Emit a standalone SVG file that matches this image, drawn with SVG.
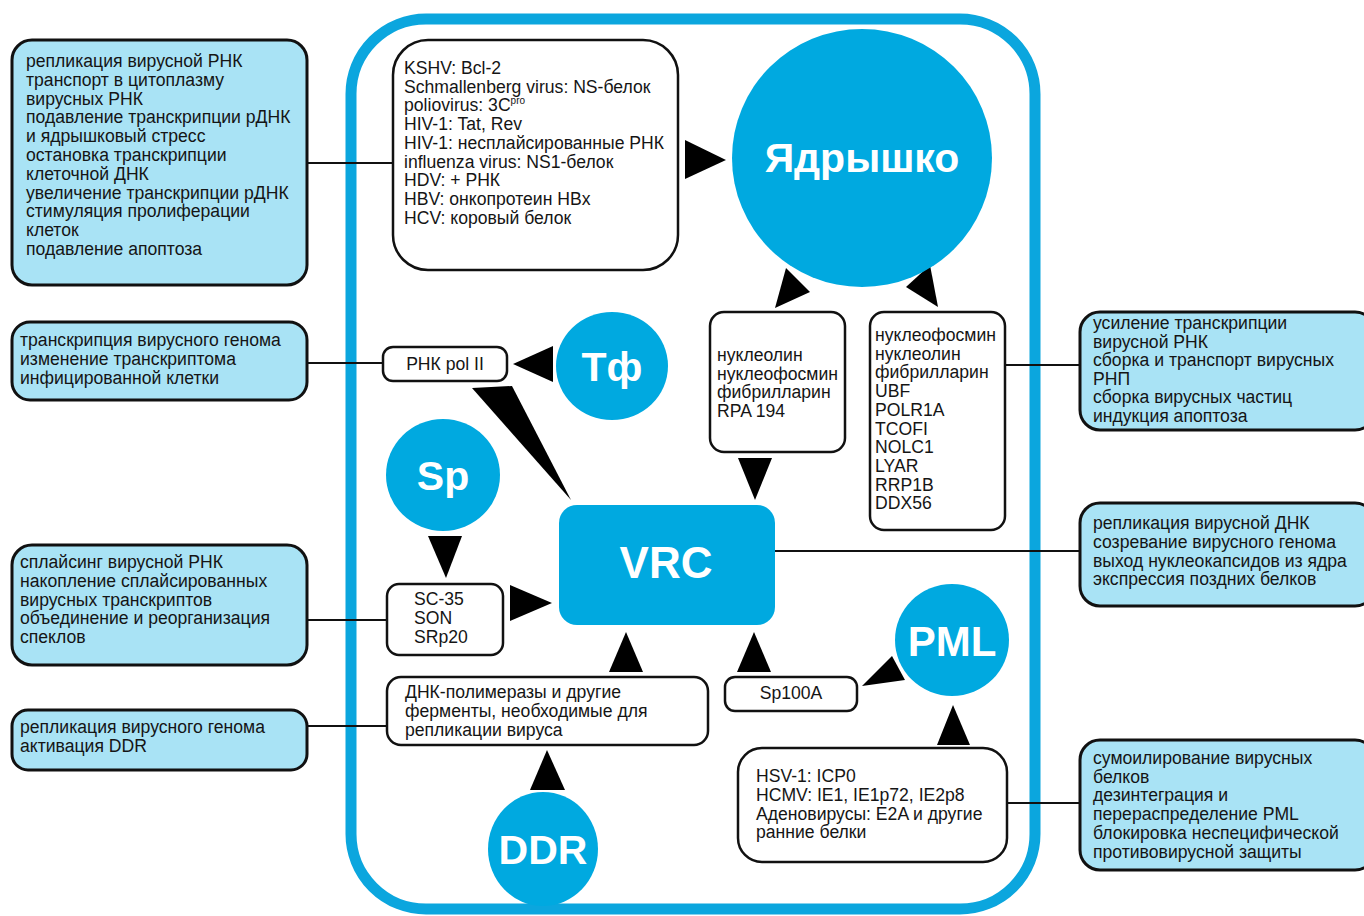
<svg xmlns="http://www.w3.org/2000/svg" width="1364" height="916" viewBox="0 0 1364 916">
<style>
.frame{fill:none;stroke:#0BA6DE;stroke-width:11}
.fn{fill:#A9E3F5;stroke:#111;stroke-width:3}
.bx{fill:#fff;stroke:#111;stroke-width:2.5}
.hub{fill:#00A9E0}
.t{font-family:"Liberation Sans",Arial,sans-serif;font-size:17.6px;fill:#151515}
.big{font-family:"Liberation Sans",Arial,sans-serif;font-weight:bold;fill:#fff;text-anchor:middle}
.ln{stroke:#111;stroke-width:2;fill:none}
.ah{fill:#000}
</style>
<rect class="frame" x="351" y="19" width="684" height="890" rx="75"/>

<g id="connectors">
<line class="ln" x1="307" y1="163" x2="393" y2="163"/>
<line class="ln" x1="307" y1="363" x2="383" y2="363"/>
<line class="ln" x1="307" y1="620" x2="387" y2="620"/>
<line class="ln" x1="307" y1="726" x2="387" y2="726"/>
<line class="ln" x1="1005" y1="365" x2="1080" y2="365"/>
<line class="ln" x1="775" y1="551" x2="1080" y2="551"/>
<line class="ln" x1="1007" y1="803" x2="1080" y2="803"/>
<polygon class="ah" points="685,140 685,179 726,160"/>
<polygon class="ah" points="786,268 810,292 775,308"/>
<polygon class="ah" points="906,287 930,265 938,307"/>
<polygon class="ah" points="738,458 772,458 755,500"/>
<polygon class="ah" points="553,346 553,382 513,364"/>
<polygon class="ah" points="472,388 512,386 571,500"/>
<polygon class="ah" points="428,536 462,536 446,578"/>
<polygon class="ah" points="510,585 510,621 552,603"/>
<polygon class="ah" points="609,672 643,672 626,632"/>
<polygon class="ah" points="530,790 565,790 547,750"/>
<polygon class="ah" points="737,672 771,672 754,632"/>
<polygon class="ah" points="862,686 892,656 905,680"/>
<polygon class="ah" points="937,745 970,745 953,705"/>
</g>

<g id="f1">
<rect class="fn" x="12" y="40" width="295" height="245" rx="20"/>
<text class="t" x="26" y="67"><tspan x="26">репликация вирусной РНК</tspan><tspan x="26" dy="18.8">транспорт в цитоплазму</tspan><tspan x="26" dy="18.8">вирусных РНК</tspan><tspan x="26" dy="18.8">подавление транскрипции рДНК</tspan><tspan x="26" dy="18.8">и ядрышковый стресс</tspan><tspan x="26" dy="18.8">остановка транскрипции</tspan><tspan x="26" dy="18.8">клеточной ДНК</tspan><tspan x="26" dy="18.8">увеличение транскрипции рДНК</tspan><tspan x="26" dy="18.8">стимуляция пролиферации</tspan><tspan x="26" dy="18.8">клеток</tspan><tspan x="26" dy="18.8">подавление апоптоза</tspan></text>
</g>
<g id="f2">
<rect class="fn" x="12" y="322" width="295" height="78" rx="18"/>
<text class="t" x="20" y="346"><tspan x="20">транскрипция вирусного генома</tspan><tspan x="20" dy="18.8">изменение транскриптома</tspan><tspan x="20" dy="18.8">инфицированной клетки</tspan></text>
</g>
<g id="f3">
<rect class="fn" x="12" y="545" width="295" height="120" rx="20"/>
<text class="t" x="20" y="568"><tspan x="20">сплайсинг вирусной РНК</tspan><tspan x="20" dy="18.8">накопление сплайсированных</tspan><tspan x="20" dy="18.8">вирусных транскриптов</tspan><tspan x="20" dy="18.8">объединение и реорганизация</tspan><tspan x="20" dy="18.8">спеклов</tspan></text>
</g>
<g id="f4">
<rect class="fn" x="12" y="710" width="295" height="60" rx="16"/>
<text class="t" x="20" y="733"><tspan x="20">репликация вирусного генома</tspan><tspan x="20" dy="18.8">активация DDR</tspan></text>
</g>
<g id="f5">
<rect class="fn" x="1080" y="312" width="295" height="118" rx="20"/>
<text class="t" x="1093" y="329"><tspan x="1093">усиление транскрипции</tspan><tspan x="1093" dy="18.6">вирусной РНК</tspan><tspan x="1093" dy="18.6">сборка и транспорт вирусных</tspan><tspan x="1093" dy="18.6">РНП</tspan><tspan x="1093" dy="18.6">сборка вирусных частиц</tspan><tspan x="1093" dy="18.6">индукция апоптоза</tspan></text>
</g>
<g id="f6">
<rect class="fn" x="1080" y="503" width="295" height="103" rx="20"/>
<text class="t" x="1093" y="529"><tspan x="1093">репликация вирусной ДНК</tspan><tspan x="1093" dy="18.8">созревание вирусного генома</tspan><tspan x="1093" dy="18.8">выход нуклеокапсидов из ядра</tspan><tspan x="1093" dy="18.8">экспрессия поздних белков</tspan></text>
</g>
<g id="f7">
<rect class="fn" x="1080" y="740" width="295" height="130" rx="20"/>
<text class="t" x="1093" y="764"><tspan x="1093">сумоилирование вирусных</tspan><tspan x="1093" dy="18.7">белков</tspan><tspan x="1093" dy="18.7">дезинтеграция и</tspan><tspan x="1093" dy="18.7">перераспределение PML</tspan><tspan x="1093" dy="18.7">блокировка неспецифической</tspan><tspan x="1093" dy="18.7">противовирусной защиты</tspan></text>
</g>

<g id="viruses">
<rect class="bx" x="393" y="40" width="285" height="230" rx="35"/>
<text class="t" x="404" y="74"><tspan x="404">KSHV: Bcl-2</tspan><tspan x="404" dy="18.7">Schmallenberg virus: NS-белок</tspan><tspan x="404" dy="18.7">poliovirus: 3C<tspan font-size="10" dy="-7">pro</tspan></tspan><tspan x="404" dy="25.7">HIV-1: Tat, Rev</tspan><tspan x="404" dy="18.7">HIV-1: несплайсированные РНК</tspan><tspan x="404" dy="18.7">influenza virus: NS1-белок</tspan><tspan x="404" dy="18.7">HDV: + РНК</tspan><tspan x="404" dy="18.7">HBV: онкопротеин HBx</tspan><tspan x="404" dy="18.7">HCV: коровый белок</tspan></text>
</g>
<g id="nucleolus">
<ellipse class="hub" cx="862" cy="158" rx="130" ry="129"/>
<text class="big" x="862" y="172" font-size="41">Ядрышко</text>
</g>
<g id="nucleolin">
<rect class="bx" x="710" y="312" width="135" height="140" rx="14"/>
<text class="t" x="717" y="361"><tspan x="717">нуклеолин</tspan><tspan x="717" dy="18.6">нуклеофосмин</tspan><tspan x="717" dy="18.6">фибрилларин</tspan><tspan x="717" dy="18.6">RPA 194</tspan></text>
</g>
<g id="nucleophosmin">
<rect class="bx" x="870" y="312" width="135" height="218" rx="14"/>
<text class="t" x="875" y="341"><tspan x="875">нуклеофосмин</tspan><tspan x="875" dy="18.7">нуклеолин</tspan><tspan x="875" dy="18.7">фибрилларин</tspan><tspan x="875" dy="18.7">UBF</tspan><tspan x="875" dy="18.7">POLR1A</tspan><tspan x="875" dy="18.7">TCOFI</tspan><tspan x="875" dy="18.7">NOLC1</tspan><tspan x="875" dy="18.7">LYAR</tspan><tspan x="875" dy="18.7">RRP1B</tspan><tspan x="875" dy="18.7">DDX56</tspan></text>
</g>
<g id="tf">
<ellipse class="hub" cx="612" cy="366" rx="56" ry="54"/>
<text class="big" x="612" y="381" font-size="41">Тф</text>
</g>
<g id="polII">
<rect class="bx" x="383" y="347" width="124" height="34" rx="10"/>
<text class="t" x="445" y="370" text-anchor="middle">РНК pol II</text>
</g>
<g id="sp">
<ellipse class="hub" cx="443" cy="475" rx="57" ry="56"/>
<text class="big" x="443" y="490" font-size="41">Sp</text>
</g>
<g id="speckle">
<rect class="bx" x="387" y="584" width="116" height="71" rx="12"/>
<text class="t" x="414" y="605"><tspan x="414">SC-35</tspan><tspan x="414" dy="18.8">SON</tspan><tspan x="414" dy="18.8">SRp20</tspan></text>
</g>
<g id="vrc">
<rect class="hub" x="559" y="505" width="216" height="120" rx="18"/>
<text class="big" x="666" y="578" font-size="44">VRC</text>
</g>
<g id="polymerases">
<rect class="bx" x="387" y="677" width="321" height="68" rx="14"/>
<text class="t" x="405" y="698"><tspan x="405">ДНК-полимеразы и другие</tspan><tspan x="405" dy="18.8">ферменты, необходимые для</tspan><tspan x="405" dy="18.8">репликации вируса</tspan></text>
</g>
<g id="ddr">
<ellipse class="hub" cx="543" cy="849" rx="55" ry="57"/>
<text class="big" x="543" y="864" font-size="41">DDR</text>
</g>
<g id="sp100a">
<rect class="bx" x="725" y="677" width="132" height="34" rx="10"/>
<text class="t" x="791" y="699" text-anchor="middle">Sp100A</text>
</g>
<g id="pml">
<ellipse class="hub" cx="952" cy="640" rx="57" ry="56"/>
<text class="big" x="952" y="656" font-size="42">PML</text>
</g>
<g id="earlyproteins">
<rect class="bx" x="738" y="748" width="269" height="114" rx="24"/>
<text class="t" x="756" y="782"><tspan x="756">HSV-1: ICP0</tspan><tspan x="756" dy="18.8">HCMV: IE1, IE1p72, IE2p8</tspan><tspan x="756" dy="18.8">Аденовирусы: E2A и другие</tspan><tspan x="756" dy="18.8">ранние белки</tspan></text>
</g>
</svg>
